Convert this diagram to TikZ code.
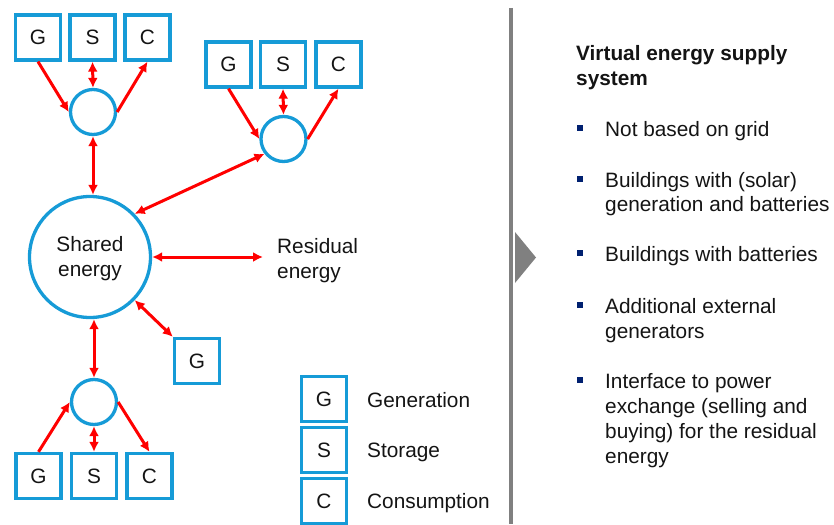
\documentclass[tikz,border=0pt]{standalone}
\usepackage{fontspec}
\setmainfont{Liberation Sans}
\usetikzlibrary{arrows.meta}
\definecolor{eblue}{RGB}{22,155,215}
\definecolor{ered}{RGB}{255,0,0}
\definecolor{egray}{RGB}{128,128,128}
\definecolor{enavy}{RGB}{0,32,112}
\definecolor{etext}{RGB}{20,20,20}
\newcommand{\fsz}{\fontsize{20.8pt}{25pt}\selectfont}
\begin{document}
\begin{tikzpicture}[x=1pt,y=-1pt,
  sq/.style={draw=eblue,line width=3.3pt,minimum size=45pt,inner sep=0pt,font=\fsz,text=etext},
  smallc/.style={circle,draw=eblue,line width=3.3pt,minimum size=45pt,inner sep=0pt},
  bigc/.style={circle,draw=eblue,line width=3.3pt,minimum size=121pt,inner sep=0pt},
  txt/.style={font=\fsz,text=etext,inner sep=0pt},
  btxt/.style={font=\fsz\bfseries,text=etext,inner sep=0pt,anchor=base west},
  ltxt/.style={txt,anchor=base west},
  bul/.style={fill=enavy,minimum size=6pt,inner sep=0pt},
  arr/.style={draw=ered,line width=3pt,-{Latex[length=10pt,width=10pt]}},
  biarr/.style={draw=ered,line width=3pt,{Latex[length=10pt,width=10pt]}-{Latex[length=10pt,width=10pt]}}
]
\useasboundingbox (0,0) rectangle (834,524);

% top-left group
\node[sq] (g1) at (38,37.5) {G};
\node[sq] (s1) at (92.5,37.5) {S};
\node[sq] (c1) at (147.5,37.5) {C};
\node[smallc] (k1) at (93,112) {};

% top-right group
\node[sq] (g2) at (228.5,64.5) {G};
\node[sq] (s2) at (283,64.5) {S};
\node[sq] (c2) at (338.5,64.5) {C};
\node[smallc] (k2) at (283.5,139) {};

% shared energy
\node[bigc] (shared) at (90,257) {};
\node[txt,align=center] (sharedtxt) at (90,259) {Shared\\energy};

% residual
\node[txt,align=left,anchor=west,inner xsep=14pt] (res) at (263,260.6) {Residual\\energy};

% external generator
\node[sq] (g4) at (197,361) {G};

% bottom group
\node[smallc] (k3) at (94,402) {};
\node[sq] (g3) at (38.5,476) {G};
\node[sq] (s3) at (94,476) {S};
\node[sq] (c3) at (149.5,476) {C};

% arrows top-left
\draw[arr] (g1.south) -- (k1.west);
\draw[biarr] (s1.south) -- (k1.north);
\draw[arr] (k1.east) -- (c1.south);
\draw[biarr] (k1.south) -- (k1.south |- shared.north);

% arrows top-right
\draw[arr] (g2.south) -- (k2.west);
\draw[biarr] (s2.south) -- (k2.north);
\draw[arr] (k2.east) -- (c2.south);
\draw[biarr] (k2.218) -- (shared.44);

% residual and external
\draw[biarr] (shared.east) -- (shared.east -| res.west);
\draw[biarr] (shared.-44) -- (g4.north west);

% arrows bottom
\draw[biarr] (k3.north |- shared.south) -- (k3.north);
\draw[arr] (g3.north) -- (k3.west);
\draw[biarr] (s3.north) -- (k3.south);
\draw[arr] (k3.east) -- (c3.north);

% legend
\node[sq] (lg) at (324,399) {G};
\node[sq] (ls) at (324,450) {S};
\node[sq] (lc) at (324,501) {C};
\node[ltxt] (lgt) at (367,407) {Generation};
\node[ltxt] (lst) at (367,457) {Storage};
\node[ltxt] (lct) at (367,508) {Consumption};

% divider
\draw[egray,line width=4pt] (511,8) -- (511,524);
\fill[egray] (515,232) -- (536,257.5) -- (515,283) -- cycle;

% right text
\node[btxt] (t1) at (576,61) {Virtual energy supply};
\node[btxt] (t2) at (576,86) {system};

\node[bul] (b1) at (580,128) {};
\node[ltxt] (p1) at (605,136) {Not based on grid};

\node[bul] (b2) at (580,179) {};
\node[ltxt] (p2a) at (605,187) {Buildings with (solar)};
\node[ltxt] (p2b) at (605,211) {generation and batteries};

\node[bul] (b3) at (580,253) {};
\node[ltxt] (p3) at (605,261) {Buildings with batteries};

\node[bul] (b4) at (580,305) {};
\node[ltxt] (p4a) at (605,313) {Additional external};
\node[ltxt] (p4b) at (605,338) {generators};

\node[bul] (b5) at (580,380) {};
\node[ltxt] (p5a) at (605,388) {Interface to power};
\node[ltxt] (p5b) at (605,413) {exchange (selling and};
\node[ltxt] (p5c) at (605,438) {buying) for the residual};
\node[ltxt] (p5d) at (605,463) {energy};
\end{tikzpicture}
\end{document}
